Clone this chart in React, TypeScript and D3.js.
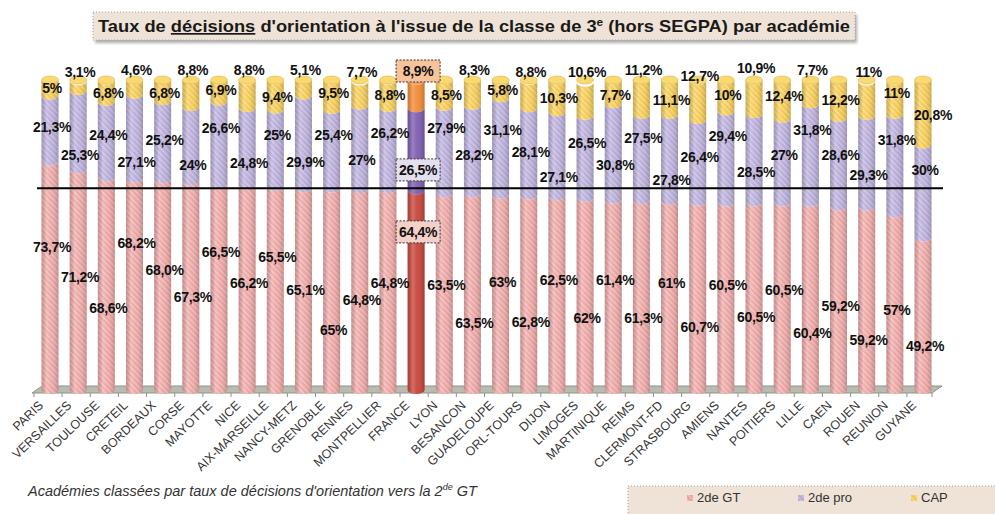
import React from "react";
import * as d3 from "d3";

// académies, classées par taux de passage en 2de GT (FRANCE = ensemble)
const categories = [
  "PARIS", "VERSAILLES", "TOULOUSE", "CRETEIL", "BORDEAUX", "CORSE", "MAYOTTE", "NICE",
  "AIX-MARSEILLE", "NANCY-METZ", "GRENOBLE", "RENNES", "MONTPELLIER", "FRANCE", "LYON",
  "BESANCON", "GUADELOUPE", "ORL-TOURS", "DIJON", "LIMOGES", "MARTINIQUE", "REIMS",
  "CLERMONT-FD", "STRASBOURG", "AMIENS", "NANTES", "POITIERS", "LILLE", "CAEN", "ROUEN",
  "REUNION", "GUYANE",
];

const gt = [
  73.7, 71.2, 68.6, 68.2, 68.0, 67.3, 66.5, 66.2, 65.5, 65.1, 65, 64.8, 64.8, 64.4, 63.5, 63.5,
  63, 62.8, 62.5, 62, 61.4, 61.3, 61, 60.7, 60.5, 60.5, 60.5, 60.4, 59.2, 59.2, 57, 49.2,
];
const pro = [
  21.3, 25.3, 24.4, 27.1, 25.2, 24, 26.6, 24.8, 25, 29.9, 25.4, 27, 26.2, 26.5, 27.9, 28.2,
  31.1, 28.1, 27.1, 26.5, 30.8, 27.5, 27.8, 26.4, 29.4, 28.5, 27, 31.8, 28.6, 29.3, 31.8, 30,
];
const cap = [
  5, 3.1, 6.8, 4.6, 6.8, 8.8, 6.9, 8.8, 9.4, 5.1, 9.5, 7.7, 8.8, 8.9, 8.5, 8.3,
  5.8, 8.8, 10.3, 10.6, 7.7, 11.2, 11.1, 12.7, 10, 10.9, 12.4, 7.7, 12.2, 11, 11, 20.8,
];

const seriesNames = ["2de GT", "2de pro", "CAP"];

// where the data labels sit, in axis units (the chart staggers them)
const gtLabelAt = [
  46.1, 36.5, 26.5, 47.4, 38.7, 30.0, 44.5, 34.5, 42.9, 32.3, 19.4, 29.0, 34.5, 51.0, 33.9, 21.6,
  34.8, 21.9, 35.5, 23.2, 35.5, 23.2, 34.5, 20.3, 33.9, 23.5, 32.3, 18.4, 27.1, 16.1, 25.8, 14.2,
];
const proLabelAt = [
  84.8, 75.8, 82.3, 73.5, 80.6, 72.6, 84.5, 73.2, 82.3, 73.5, 82.3, 74.2, 82.9, 71.0, 84.5, 75.8,
  83.9, 76.8, 68.7, 79.7, 72.6, 81.3, 67.7, 75.2, 81.9, 70.3, 75.8, 83.9, 75.8, 69.4, 80.6, 71.0,
];
const capLabelAt = [
  97.4, 102.6, 95.8, 103.2, 95.8, 103.2, 96.8, 103.2, 94.5, 103.2, 95.8, 102.6, 95.2, 102.9, 95.2, 103.2,
  96.8, 102.6, 94.2, 102.6, 95.2, 103.2, 93.5, 101.3, 95.2, 103.9, 94.8, 103.2, 93.5, 102.6, 95.8, 88.7,
];

const W = 995;
const H = 514;
const FONT = "'Liberation Sans', Arial, sans-serif";

const colors = ["#eaa19f", "#b6a9d7", "#f3c74c"];
const stripes = ["#f7cbc8", "#d6cdec", "#fce396"];
const franceColors = ["#c8453b", "#7e5db0", "#f28b36"];
const franceBoxes = ["#f4d0c8", "#e4dfee", "#f8c39b"];

const fmt = (v: number, name: string) =>
  (name === "BORDEAUX" ? v.toFixed(1) : String(v)).replace(".", ",") + "%";

function segPath(cx: number, yBottom: number, yTop: number, rx: number, ry: number) {
  const l = cx - rx;
  const r = cx + rx;
  return `M${l},${yTop} A${rx},${ry} 0 0 0 ${r},${yTop} L${r},${yBottom} A${rx},${ry} 0 0 1 ${l},${yBottom} Z`;
}

export default function App() {
  const y = d3.scaleLinear().domain([0, 100]).range([390, 80]);
  const x = d3.scalePoint<string>().domain(categories).range([50, 923]);
  const step = x.step();
  const bw = 17;
  const rx = bw / 2;
  const ry = 4;

  const rows = categories.map((c, i) => ({ name: c, gt: gt[i], pro: pro[i], cap: cap[i] }));
  const stacked = d3.stack<any>().keys(["gt", "pro", "cap"])(rows);
  const labelAt = [gtLabelAt, proLabelAt, capLabelAt];
  const values = [gt, pro, cap];
  const frIdx = categories.indexOf("FRANCE");

  const floorL = 32;
  const floorR = 932;
  const floorY = y(0) + 3;

  return (
    <svg width={W} height={H} style={{ display: "block", background: "#fff" }} fontFamily={FONT}>
      <style>{`body{margin:0}`}</style>
      <defs>
        {colors.map((c, k) => (
          <pattern
            key={k}
            id={`hatch${k}`}
            patternUnits="userSpaceOnUse"
            width={4}
            height={4}
            patternTransform="rotate(-45)"
          >
            <rect width={4} height={4} fill={c} />
            <rect width={1.3} height={4} fill={stripes[k]} opacity={0.8} />
          </pattern>
        ))}
        <linearGradient id="shade" x1="0" x2="1" y1="0" y2="0">
          <stop offset="0" stopColor="#000" stopOpacity={0.16} />
          <stop offset="0.3" stopColor="#fff" stopOpacity={0.22} />
          <stop offset="0.55" stopColor="#fff" stopOpacity={0.05} />
          <stop offset="1" stopColor="#000" stopOpacity={0.18} />
        </linearGradient>
        <filter id="shadow" x="-5%" y="-30%" width="110%" height="170%">
          <feDropShadow dx="2" dy="3" stdDeviation="1.5" floodColor="#777" floodOpacity="0.6" />
        </filter>
      </defs>

      {/* floor */}
      <polygon
        points={`${floorL},${floorY} ${floorR},${floorY} ${floorR + 10},${floorY - 7} ${floorL + 10},${floorY - 7}`}
        fill="#b7bbb0"
        stroke="#8e9389"
        strokeWidth={1}
      />
      {categories.map((c) => (
        <line
          key={c}
          x1={x(c)! - step / 2 - 2}
          x2={x(c)! - step / 2 - 2}
          y1={floorY}
          y2={floorY + 4}
          stroke="#8e9389"
        />
      ))}
      <line x1={floorR} x2={floorR} y1={floorY} y2={floorY + 4} stroke="#8e9389" />

      {/* cylinders */}
      {categories.map((c, i) => {
        const cx = x(c)!;
        const isFr = i === frIdx;
        return (
          <g key={c}>
            {stacked.map((s, k) => {
              const d = segPath(cx, y(s[i][0]), y(s[i][1]), rx, ry);
              return (
                <g key={k}>
                  <path d={d} fill={isFr ? franceColors[k] : `url(#hatch${k})`} />
                  <path d={d} fill="url(#shade)" />
                </g>
              );
            })}
            <ellipse
              cx={cx}
              cy={y(100)}
              rx={rx}
              ry={ry}
              fill={isFr ? "#f7a866" : "#f8d972"}
              stroke={isFr ? "#d9762c" : "#e3b63d"}
              strokeWidth={0.6}
            />
          </g>
        );
      })}

      {/* reference line at the national rate */}
      <line x1={37} x2={943} y1={y(gt[frIdx]) - 2} y2={y(gt[frIdx]) - 2} stroke="#000" strokeWidth={2} />

      {/* data labels */}
      {categories.map((c, i) => {
        const cx = x(c)! + 2;
        const isFr = i === frIdx;
        return (
          <g key={c}>
            {values.map((vals, k) => {
              const ly = y(labelAt[k][i]);
              const txt = fmt(vals[i], c);
              const lx = c === "GUYANE" && k === 2 ? cx + 8 : cx;
              return (
                <g key={k}>
                  {isFr && (
                    <rect
                      x={lx - 22}
                      y={ly - 11}
                      width={44}
                      height={22}
                      fill={franceBoxes[k]}
                      stroke="#333"
                      strokeWidth={1}
                      strokeDasharray="2,1.5"
                    />
                  )}
                  <text
                    x={lx}
                    y={ly}
                    dy="0.36em"
                    textAnchor="middle"
                    fontSize={14}
                    fontWeight="bold"
                    fill="#111"
                    letterSpacing={-0.3}
                  >
                    {txt}
                  </text>
                </g>
              );
            })}
          </g>
        );
      })}

      {/* category axis */}
      {categories.map((c) => (
        <text
          key={c}
          transform={`translate(${x(c)! - 9},${403}) rotate(-44)`}
          dy="0.35em"
          textAnchor="end"
          fontSize={12.5}
          fill="#333"
        >
          {c}
        </text>
      ))}

      {/* title */}
      <rect x={93} y={12} width={762} height={28} fill="#eee3d6" filter="url(#shadow)" />
      <rect x={93} y={12} width={762} height={28} fill="none" stroke="#a9a39b" strokeDasharray="1,2" />
      <text
        x={474}
        y={32}
        textAnchor="middle"
        fontSize={17}
        fontWeight="bold"
        fill="#1a1a1a"
        textLength={752}
        lengthAdjust="spacingAndGlyphs"
      >
        Taux de <tspan textDecoration="underline">décisions</tspan> d'orientation à l'issue de la classe de 3
        <tspan fontSize={11} dy={-6}>e</tspan>
        <tspan dy={6}> (hors SEGPA) par académie</tspan>
      </text>

      {/* footnote */}
      <text x={28} y={496} fontSize={14.5} fontStyle="italic" fill="#333">
        Académies classées par taux de décisions d'orientation vers la 2
        <tspan fontSize={9} dy={-6}>de</tspan>
        <tspan dy={6}> GT</tspan>
      </text>

      {/* legend */}
      <rect x={628} y={486} width={380} height={40} fill="#eee3d6" filter="url(#shadow)" />
      <rect x={628} y={486} width={380} height={40} fill="none" stroke="#a9a39b" strokeDasharray="1,2" />
      {seriesNames.map((s, k) => {
        const lx = [687, 798, 911][k];
        return (
          <g key={s}>
            <rect x={lx} y={495} width={6} height={6} fill={`url(#hatch${k})`} />
            <text x={lx + 10} y={502} fontSize={13} fill="#333">
              {s}
            </text>
          </g>
        );
      })}
    </svg>
  );
}
